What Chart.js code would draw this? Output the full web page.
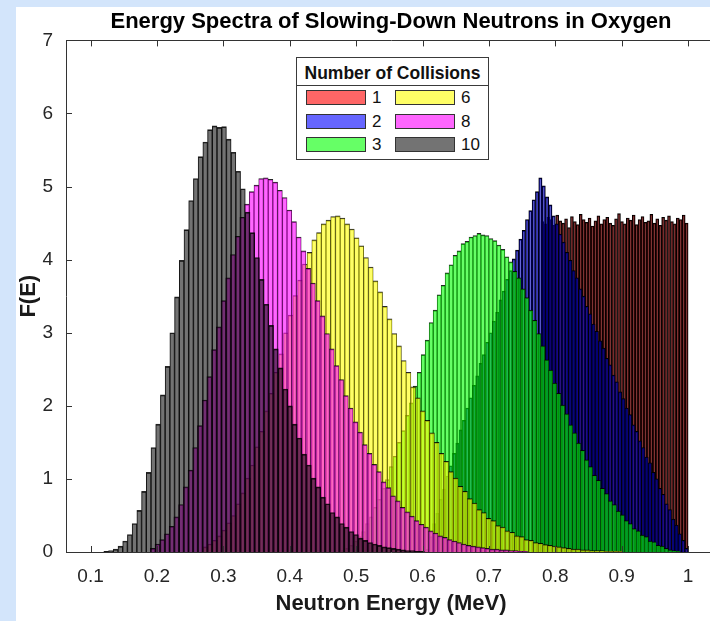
<!DOCTYPE html>
<html>
<head>
<meta charset="utf-8">
<script src="https://cdn.jsdelivr.net/npm/chart.js@4.4.0/dist/chart.umd.min.js"></script>
<style>
  html, body { margin: 0; padding: 0; }
  body {
    width: 710px; height: 621px; overflow: hidden; position: relative;
    background: #d3e5fb;
    font-family: "Liberation Sans", Arial, sans-serif;
  }
  #panel { position: absolute; left: 16px; top: 7px; right: 0; bottom: 0; background: #fff; }
  #wrap { position: absolute; left: 0; top: 0; width: 730px; height: 621px; }
  #legend {
    position: absolute; left: 296px; top: 57px; width: 191px; height: 101px;
    background: #fff; border: 1px solid #3a3a3a;
  }
  #legend .lt {
    position: absolute; left: 0; right: 0; top: 3px; height: 24px; line-height: 24px;
    text-align: center; font-weight: bold; font-size: 17.5px; color: #111;
    border-bottom: 1px solid #3a3a3a;
  }
  #legend .li { position: absolute; height: 15px; line-height: 15px; font-size: 17px; color: #111; white-space: nowrap; }
  #legend .sw {
    display: inline-block; width: 58px; height: 13px; border: 1px solid #333;
    vertical-align: top; margin-right: 6px;
  }
</style>
</head>
<body>
<div id="panel"></div>
<div id="wrap"><canvas id="chart"></canvas></div>
<div id="legend"></div>
<script>
// number of collisions shown
const seriesLabels = ["1", "2", "3", "6", "8", "10"];

// bin layout of each histogram (first edge, bin width), MeV
const binStart = [0.7785, 0.6, 0.472, 0.27, 0.19, 0.12];
const binWidth = [0.00443, 0.005, 0.006, 0.0071, 0.0071, 0.0071];

// F(E) per bin
const f1 = [4.52, 4.49, 4.58, 4.55, 4.47, 4.61, 4.53, 4.50, 4.56, 4.44, 4.59, 4.52, 4.48, 4.62, 4.55, 4.51, 4.57, 4.46, 4.53, 4.60,
  4.49, 4.55, 4.58, 4.50, 4.47, 4.56, 4.63, 4.52, 4.49, 4.57, 4.54, 4.61, 4.48, 4.55, 4.59, 4.51, 4.53, 4.62, 4.50, 4.56,
  4.47, 4.58, 4.54, 4.60, 4.52, 4.49, 4.57, 4.55, 4.61, 4.50];
const f2 = [0.00, 0.04, 0.21, 0.39, 0.53, 0.72, 0.86, 1.04, 1.18, 1.35, 1.49, 1.67, 1.80, 1.97, 2.11, 2.28, 2.41, 2.58, 2.70, 2.87,
  3.00, 3.16, 3.28, 3.45, 3.57, 3.73, 3.85, 4.01, 4.13, 4.28, 4.40, 4.55, 4.67, 4.82, 4.93, 5.12, 5.01, 4.86, 4.75, 4.60,
  4.49, 4.35, 4.24, 4.10, 3.99, 3.85, 3.75, 3.60, 3.50, 3.36, 3.26, 3.12, 3.02, 2.89, 2.79, 2.65, 2.56, 2.42, 2.33, 2.19,
  2.10, 1.97, 1.88, 1.74, 1.65, 1.52, 1.43, 1.30, 1.22, 1.09, 1.00, 0.87, 0.79, 0.66, 0.58, 0.45, 0.37, 0.25, 0.16, 0.05];
const f3 = [0.00, 0.02, 0.05, 0.09, 0.15, 0.21, 0.28, 0.39, 0.48, 0.61, 0.72, 0.87, 0.99, 1.17, 1.31, 1.50, 1.66, 1.87, 2.04, 2.27,
  2.46, 2.70, 2.90, 3.14, 3.31, 3.52, 3.65, 3.82, 3.93, 4.06, 4.12, 4.22, 4.25, 4.31, 4.33, 4.36, 4.34, 4.33, 4.29, 4.26,
  4.20, 4.14, 4.04, 3.97, 3.84, 3.75, 3.60, 3.48, 3.31, 3.17, 2.99, 2.82, 2.63, 2.49, 2.31, 2.17, 2.01, 1.89, 1.74, 1.63,
  1.49, 1.39, 1.26, 1.17, 1.05, 0.98, 0.87, 0.80, 0.70, 0.65, 0.56, 0.51, 0.43, 0.39, 0.32, 0.29, 0.23, 0.21, 0.15, 0.14,
  0.09, 0.08, 0.05, 0.03, 0.02, 0.01, 0.00, 0.00];
const f6 = [0.07, 0.11, 0.16, 0.22, 0.30, 0.40, 0.50, 0.66, 0.81, 1.01, 1.19, 1.44, 1.65, 1.93, 2.17, 2.46, 2.71, 3.00, 3.24, 3.51,
  3.72, 3.94, 4.10, 4.27, 4.37, 4.49, 4.54, 4.59, 4.60, 4.57, 4.49, 4.42, 4.30, 4.19, 4.03, 3.90, 3.71, 3.56, 3.36, 3.19,
  2.99, 2.82, 2.62, 2.46, 2.26, 2.11, 1.93, 1.80, 1.63, 1.50, 1.35, 1.24, 1.10, 1.01, 0.90, 0.83, 0.73, 0.67, 0.58, 0.54,
  0.46, 0.43, 0.36, 0.34, 0.29, 0.27, 0.22, 0.21, 0.17, 0.16, 0.13, 0.12, 0.10, 0.09, 0.08, 0.07, 0.06, 0.05, 0.04, 0.04,
  0.03, 0.03, 0.02, 0.02, 0.02, 0.01, 0.01, 0.01, 0.01, 0.00];
const f8 = [0.05, 0.11, 0.17, 0.25, 0.35, 0.48, 0.65, 0.89, 1.12, 1.43, 1.73, 2.08, 2.40, 2.77, 3.08, 3.44, 3.75, 4.07, 4.32, 4.58,
  4.76, 4.93, 5.02, 5.11, 5.12, 5.10, 5.06, 4.95, 4.85, 4.68, 4.52, 4.31, 4.12, 3.88, 3.68, 3.44, 3.23, 2.99, 2.78, 2.55,
  2.36, 2.14, 1.97, 1.78, 1.64, 1.47, 1.35, 1.20, 1.10, 0.96, 0.88, 0.77, 0.70, 0.61, 0.55, 0.49, 0.43, 0.38, 0.34, 0.29,
  0.26, 0.22, 0.20, 0.17, 0.15, 0.13, 0.11, 0.09, 0.08, 0.07, 0.06, 0.05, 0.04, 0.04, 0.03, 0.03, 0.02, 0.02, 0.01, 0.01];
const f10 = [0.01, 0.02, 0.04, 0.08, 0.15, 0.24, 0.39, 0.57, 0.83, 1.09, 1.43, 1.75, 2.15, 2.54, 3.00, 3.49, 3.99, 4.41, 4.81, 5.11,
  5.41, 5.61, 5.78, 5.83, 5.81, 5.82, 5.65, 5.47, 5.21, 4.97, 4.65, 4.37, 4.03, 3.73, 3.39, 3.10, 2.78, 2.52, 2.23, 2.00,
  1.75, 1.56, 1.34, 1.19, 1.01, 0.89, 0.75, 0.66, 0.54, 0.48, 0.39, 0.34, 0.28, 0.24, 0.19, 0.16, 0.13, 0.11, 0.09, 0.07,
  0.06, 0.05, 0.04, 0.03, 0.02, 0.02, 0.01, 0.01];
const seriesValues = [f1, f2, f3, f6, f8, f10];

// axis ticks
const xTicks = [0.1, 0.2, 0.3, 0.4, 0.5, 0.6, 0.7, 0.8, 0.9, 1];
const yTicks = [0, 1, 2, 3, 4, 5, 6, 7];
const xMin = 0.063, xMax = 1.042;

// styles
const swatchFills = ["rgba(255,0,0,0.6)", "rgba(0,0,255,0.6)", "rgba(0,255,0,0.6)",
  "rgba(255,255,0,0.6)", "rgba(255,0,255,0.6)", "rgba(0,0,0,0.55)"];
// the finely binned histograms (1 and 2) look darker in the picture because their edges crowd together
const barFills = ["rgba(180,30,30,0.5)", "rgba(0,0,190,0.6)", "rgba(0,255,0,0.6)",
  "rgba(255,255,0,0.6)", "rgba(255,0,255,0.6)", "rgba(0,0,0,0.55)"];
const edges = [
  { top: 1, left: 1, right: 1, bottom: 0 },
  { top: 1, left: 0.8, right: 0.8, bottom: 0 },
  { top: 1, left: 0.4, right: 0.4, bottom: 0 },
  { top: 1, left: 0.4, right: 0.4, bottom: 0 },
  { top: 1, left: 0.4, right: 0.4, bottom: 0 },
  { top: 1, left: 0.4, right: 0.4, bottom: 0 }
];
const edgeColors = ["#000", "#000", "rgba(0,0,0,0.85)", "rgba(0,0,0,0.85)", "rgba(0,0,0,0.85)", "rgba(0,0,0,0.85)"];
const axisColor = "#333";

Chart.defaults.font.family = '"Liberation Sans", Arial, sans-serif';

// frame and inward tick marks (MATLAB look)
const boxTicks = {
  id: "boxTicks",
  afterDatasetsDraw(chart) {
    const { ctx, chartArea: a } = chart;
    const xs = chart.scales.x, ys = chart.scales.y;
    ctx.save();
    ctx.strokeStyle = axisColor;
    ctx.lineWidth = 1;
    ctx.beginPath();
    ctx.rect(Math.round(a.left) + 0.5, Math.round(a.top) + 0.5, a.right - a.left, Math.round(a.bottom - a.top));
    xTicks.forEach(v => {
      const px = Math.round(xs.getPixelForValue(v)) + 0.5;
      ctx.moveTo(px, a.bottom); ctx.lineTo(px, a.bottom - 6);
      ctx.moveTo(px, a.top); ctx.lineTo(px, a.top + 6);
    });
    yTicks.forEach(v => {
      const py = Math.round(ys.getPixelForValue(v)) + 0.5;
      ctx.moveTo(a.left, py); ctx.lineTo(a.left + 6, py);
      ctx.moveTo(a.right, py); ctx.lineTo(a.right - 6, py);
    });
    ctx.stroke();
    ctx.restore();
  }
};

const scales = {
  x: {
    type: "linear", position: "bottom", min: xMin, max: xMax, offset: false,
    afterBuildTicks: s => { s.ticks = xTicks.map(v => ({ value: v })); },
    afterFit: s => { s.height = 69; },
    grid: { display: false, drawTicks: false, offset: false },
    border: { display: false },
    ticks: { padding: 13, color: "#262626", font: { size: 19 }, maxRotation: 0, autoSkip: false,
      callback: v => String(Math.round(v * 10) / 10) },
    title: { display: true, text: "Neutron Energy (MeV)", color: "#1a1a1a",
      font: { size: 22, weight: "bold" }, padding: { top: 0, bottom: 4 } }
  },
  y: {
    type: "linear", min: 0, max: 7,
    afterBuildTicks: s => { s.ticks = yTicks.map(v => ({ value: v })); },
    afterFit: s => { s.width = 66; },
    grid: { display: false, drawTicks: false },
    border: { display: false },
    ticks: { padding: 13, color: "#262626", font: { size: 19 } },
    title: { display: true, text: "F(E)", color: "#1a1a1a",
      font: { size: 22, weight: "bold" }, padding: { top: 16, bottom: 0 } }
  }
};

// one hidden x scale per histogram so each keeps its own bar width
const datasets = seriesValues.map((vals, k) => {
  const id = "xh" + k;
  scales[id] = { type: "linear", display: false, offset: false, min: xMin, max: xMax,
    grid: { offset: false } };
  return {
    label: seriesLabels[k],
    xAxisID: id,
    yAxisID: "y",
    data: vals.map((v, i) => ({ x: binStart[k] + (i + 0.5) * binWidth[k], y: v })),
    backgroundColor: barFills[k],
    borderColor: edgeColors[k],
    borderWidth: edges[k],
    borderSkipped: false,
    inflateAmount: 0.33,
    barPercentage: 1,
    categoryPercentage: 1,
    grouped: false,
    order: seriesValues.length - k   // 1 collision drawn first, 10 on top
  };
});

new Chart(document.getElementById("chart"), {
  type: "bar",
  data: { datasets },
  options: {
    responsive: true,
    maintainAspectRatio: false,
    animation: false,
    devicePixelRatio: 1,
    layout: { padding: { left: 0, right: 14, top: 0, bottom: 0 } },
    plugins: {
      legend: { display: false },
      tooltip: { enabled: false },
      title: {
        display: true, fullSize: false,
        text: "Energy Spectra of Slowing-Down Neutrons in Oxygen",
        color: "#000", font: { size: 22, weight: "bold" },
        padding: { top: 9, bottom: 5 }
      }
    },
    scales
  },
  plugins: [boxTicks]
});

// legend: two columns, filled top to bottom
const legendBox = document.getElementById("legend");
legendBox.innerHTML = '<div class="lt">Number of Collisions</div>';
seriesLabels.forEach((lab, i) => {
  const col = Math.floor(i / 3), row = i % 3;
  const item = document.createElement("div");
  item.className = "li";
  item.style.left = (9 + col * 89) + "px";
  item.style.top = (32 + row * 23.5) + "px";
  item.innerHTML = '<span class="sw" style="background:' + swatchFills[i] + '"></span>' + lab;
  legendBox.appendChild(item);
});
</script>
</body>
</html>
